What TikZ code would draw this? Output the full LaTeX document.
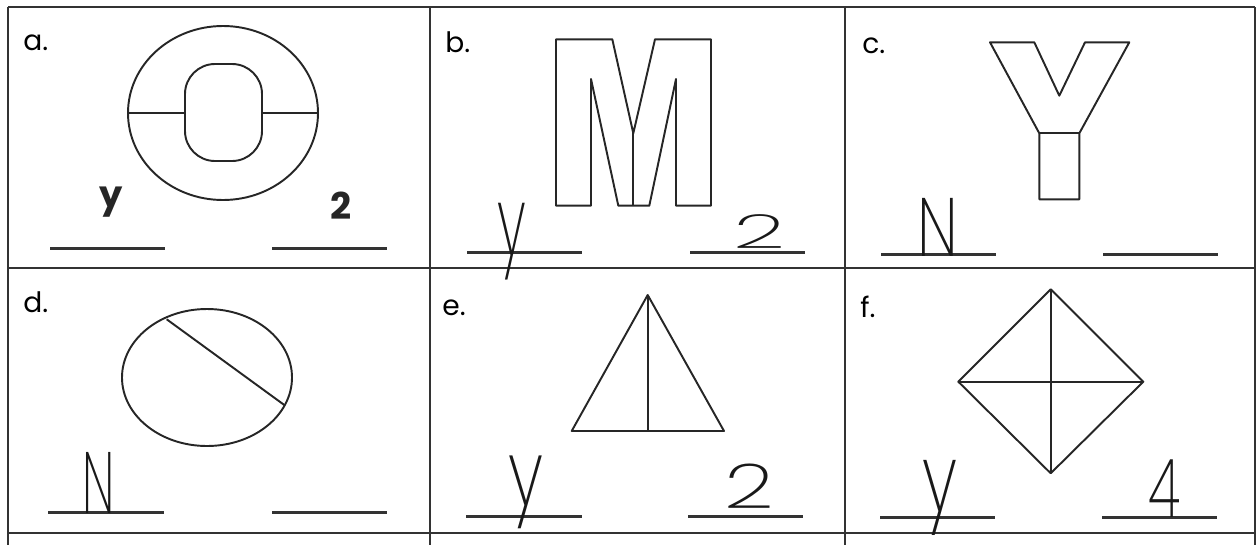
\documentclass[tikz,border=0pt]{standalone}
\usepackage{fontspec}
\setmainfont{Poppins}
\newfontfamily\handfont{Poppins}[UprightFont=* ExtraLight]
\usetikzlibrary{positioning}
\newcommand{\handw}[3]{\scalebox{#1}[#2]{\handfont\fontsize{40}{40}\selectfont #3}}

\begin{document}
\begin{tikzpicture}[
  x=0.02cm, y=-0.02cm,
  gridline/.style={line width=0.7pt, black!80},
  figline/.style={line width=1.1pt, black!85, line join=round},
  blank/.style={line width=1.7pt, black!80},
  lbl/.style={anchor=base west, inner sep=0pt, font=\fontsize{16}{18}\selectfont},
  given/.style={inner sep=0pt, font=\bfseries\fontsize{21}{24}\selectfont, black!85},
  answer/.style={inner sep=0pt, black!90},
]
\useasboundingbox (0,0) rectangle (1257,545);

% Tabela
\draw[gridline] (8,7) -- (1255,7);
\draw[gridline] (8,268) -- (1255,268);
\draw[gridline] (8,533) -- (1255,533);
\draw[gridline] (8,7) -- (8,545);
\draw[gridline] (430,7) -- (430,545);
\draw[gridline] (845,7) -- (845,545);
\draw[gridline] (1255,7) -- (1255,545);

% Rotulos
\node[lbl] (la) at (23,50) {a.};
\node[lbl] (lb) at (445,52) {b.};
\node[lbl] (lc) at (862,53) {c.};
\node[lbl] (ld) at (23,312) {d.};
\node[lbl] (le) at (442,315) {e.};
\node[lbl] (lf) at (860,317) {f.};

% a. letra O
\draw[figline] (223,113) ellipse [x radius=95, y radius=87];
\draw[figline, rounded corners=0.6cm] (185,64) rectangle (262,161);
\draw[figline] (128,113) -- (185,113);
\draw[figline] (262,113) -- (318,113);

% b. letra M
\draw[figline] (556,39.3) -- (612.3,39.3) -- (633.3,133.3) -- (655,39.3) -- (711,39.3)
  -- (711,205.7) -- (676,205.7) -- (676,79) -- (649.3,205.7) -- (618.3,205.7)
  -- (591,79) -- (591,205.7) -- (556,205.7) -- cycle;
\draw[figline] (633.3,133.3) -- (633.3,205.7);

% c. letra Y
\draw[figline] (990,42.3) -- (1034.3,42.3) -- (1059.3,95.7) -- (1085,42.3) -- (1129.3,42.3)
  -- (1079.3,133.3) -- (1079.3,199.3) -- (1039.3,199.3) -- (1039.3,133.3) -- cycle;
\draw[figline] (1039.3,133.3) -- (1079.3,133.3);

% d. elipse
\draw[figline] (207,377.5) ellipse [x radius=85, y radius=68.5];
\draw[figline] (166.7,319.3) -- (284.3,405);

% e. triangulo
\draw[figline] (647.7,295) -- (724,431) -- (571.7,431) -- cycle;
\draw[figline] (647.7,295) -- (647.7,431);

% f. losango
\draw[figline] (1050.7,289.3) -- (1143.3,381.7) -- (1050.7,473.3) -- (958.3,381.7) -- cycle;
\draw[figline] (1050.7,289.3) -- (1050.7,473.3);
\draw[figline] (958.3,381.7) -- (1143.3,381.7);

% Linhas de resposta
\draw[blank] (50,248) -- (165,248);
\draw[blank] (272,248) -- (387,248);
\draw[blank] (467,252) -- (582,252);
\draw[blank] (690,252) -- (805,252);
\draw[blank] (881,254) -- (996,254);
\draw[blank] (1103,254) -- (1218,254);
\draw[blank] (48,512) -- (164,512);
\draw[blank] (272,512) -- (387,512);
\draw[blank] (466,516) -- (582,516);
\draw[blank] (688,516) -- (803,516);
\draw[blank] (880,517) -- (995,517);
\draw[blank] (1102,517) -- (1217,517);

% Exemplo impresso
\node[given] (ya) at (111,202) {y};
\node[given] (na) at (341,206) {2};

% Respostas escritas
\node[answer] (yb) at (512,241.5) {\handw{0.78}{1.37}{y}};
\node[answer] (nb) at (760,231.5) {\handw{1.3}{0.67}{2}};
\node[answer] (yc) at (938,227) {\handw{0.87}{1.18}{N}};
\node[answer] (yd) at (98.5,482.5) {\handw{0.69}{1.24}{N}};
\node[answer] (ye) at (525.5,492) {\handw{0.95}{1.3}{y}};
\node[answer] (ne) at (749,486.5) {\handw{1.24}{0.88}{2}};
\node[answer] (yf) at (939.5,497.5) {\handw{0.95}{1.34}{y}};
\node[answer] (nf) at (1165,488.5) {\handw{0.77}{1.16}{4}};

\end{tikzpicture}
\end{document}
